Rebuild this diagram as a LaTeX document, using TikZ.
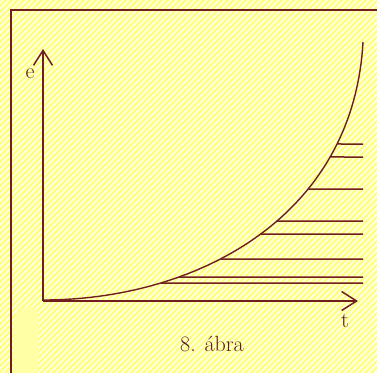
\documentclass[tikz,border=0pt]{standalone}
\usepackage{xcolor}
\definecolor{abrabrown}{RGB}{112,30,30}
\definecolor{abrayellow}{RGB}{255,255,125}
\definecolor{abrapale}{RGB}{255,255,222}
\definecolor{abrapatch}{RGB}{255,255,165}
\usepackage{tikz}
\usetikzlibrary{arrows.meta,intersections}
\tikzset{
  axisline/.style={abrabrown, line width=1.5pt, -{Straight Barb[length=15pt,width=19pt,line width=1.5pt]}},
  levelline/.style={abrabrown, line width=1.5pt},
  axislabel/.style={abrabrown!85!black, font=\fontsize{22}{24}\selectfont, inner sep=0pt}
}

\begin{document}
\begin{tikzpicture}[x=1pt, y=-1pt]
\useasboundingbox (0,0) rectangle (377,373);
% Hatched background
\fill[abrayellow] (0,0) rectangle (377,373);
\begin{scope}
  \clip (0,0) rectangle (377,373);
  \foreach \i in {-376,-370,...,382}
    \draw[abrapale, line width=2.1pt] (\i,373) -- (\i+373,0);
\end{scope}
\fill[abrapatch] (13,373) -- (13,322) .. controls (16,306) and (34,302) .. (38,314) -- (38,373) -- cycle;
% Frame
\draw[abrabrown, line width=1.6pt] (11,373) -- (11,10) -- (377,10);
% Axes
\coordinate (origin) at (43,301);
\coordinate (etip) at (43,49);
\coordinate (ttip) at (358,301);
\draw[axisline] (origin) -- (etip);
\draw[axisline] (origin) -- (ttip);
\node[axislabel] (elabel) at (30,74) {e};
\node[axislabel] (tlabel) at (345,321) {t};
% Growth curve
\draw[abrabrown, line width=1.4pt, name path=growth] (43,300) .. controls (193,300) and (353,220) .. (363,42);
% Horizontal levels from the curve
\foreach \y in {144,157,189,221,234,259,277,283} {
  \path[name path=level] (43,\y) -- (363,\y);
  \draw[levelline, name intersections={of=growth and level}] (intersection-1) -- (363,\y);
}
% Caption
\node[axislabel, anchor=base] (caption) at (212,351) {8. ábra};
\end{tikzpicture}
\end{document}
